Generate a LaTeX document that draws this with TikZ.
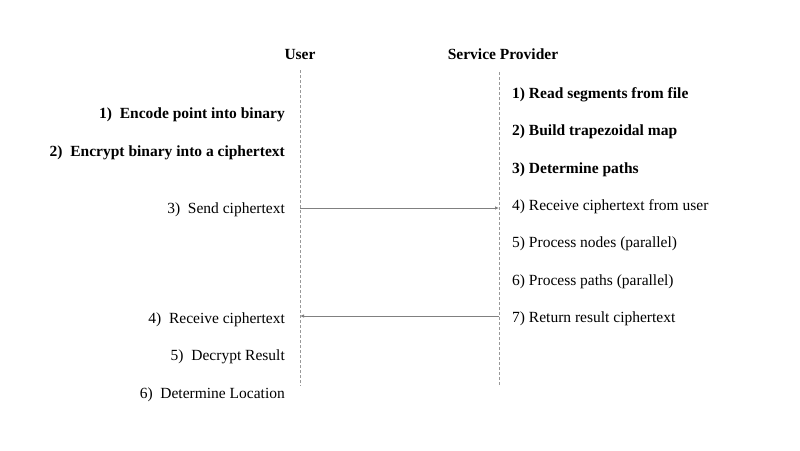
\documentclass[tikz,border=0pt]{standalone}
\usepackage{fontspec}
\setmainfont{Liberation Serif}
\usetikzlibrary{arrows.meta}
\begin{document}
\begin{tikzpicture}[x=1pt,y=-1pt,
  lbl/.style={inner sep=0pt,font=\fontsize{15.5}{17}\selectfont},
  bf/.style={font=\fontsize{15.5}{17}\selectfont\bfseries},
  ltxt/.style={lbl,anchor=east},
  rtxt/.style={lbl,anchor=west},
  life/.style={draw=gray!80,dashed,dash pattern=on 3pt off 2pt,line width=0.6pt},
  msg/.style={draw=gray,line width=0.8pt,-{Latex[length=4pt,width=3.5pt]}}
]
\useasboundingbox (0,0) rectangle (800,450);
\node[lbl,bf] (user) at (300,54.5) {User};
\node[lbl,bf] (sp) at (503,54.5) {Service Provider};
\coordinate (ut) at (300,70);
\coordinate (ub) at (300,386);
\coordinate (st) at (499,72);
\coordinate (sb) at (499,385);
\draw[life] (ut) -- (ub);
\draw[life] (st) -- (sb);
\node[ltxt,bf] (l1) at (285,114.5) {1)\ \ Encode point into binary};
\node[ltxt,bf] (l2) at (285,152.5) {2)\ \ Encrypt binary into a ciphertext};
\node[ltxt] (l3) at (285,209.5) {3)\ \ Send ciphertext};
\node[ltxt] (l4) at (285,319.5) {4)\ \ Receive ciphertext};
\node[ltxt] (l5) at (285,356.5) {5)\ \ Decrypt Result};
\node[ltxt] (l6) at (285,394.5) {6)\ \ Determine Location};
\node[rtxt,bf] (r1) at (512,94.5) {1) Read segments from file};
\node[rtxt,bf] (r2) at (512,131.5) {2) Build trapezoidal map};
\node[rtxt,bf] (r3) at (512,169.5) {3) Determine paths};
\node[rtxt] (r4) at (512,206.5) {4) Receive ciphertext from user};
\node[rtxt] (r5) at (512,243.5) {5) Process nodes (parallel)};
\node[rtxt] (r6) at (512,281.5) {6) Process paths (parallel)};
\node[rtxt] (r7) at (512,318.5) {7) Return result ciphertext};
\coordinate (a1s) at (300,208);
\coordinate (a1e) at (499,208);
\coordinate (a2s) at (499,316);
\coordinate (a2e) at (300,316);
\draw[msg] (a1s) -- (a1e);
\draw[msg] (a2s) -- (a2e);
\end{tikzpicture}
\end{document}
